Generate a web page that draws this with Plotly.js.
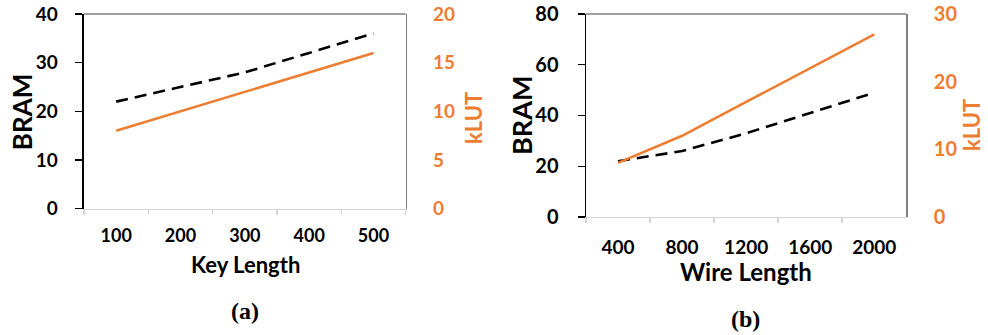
<!DOCTYPE html>
<html>
<head>
<meta charset="utf-8">
<script src="https://cdn.plot.ly/plotly-3.0.1.min.js"></script>
<style>html,body{margin:0;padding:0;background:#fff;}#chart{width:988px;height:335px;}</style>
</head>
<body>
<div id="chart"></div>
<script>
// Data
const keyLength = ['100', '200', '300', '400', '500'];
const bramA = [22, 25, 28, 32, 36];
const klutA = [8, 10, 12, 14, 16];

const wireLength = ['400', '800', '1200', '1600', '2000'];
const bramB = [22, 26, 33, 41, 49];
const klutB = [8, 12, 17, 22, 27];

const ORANGE = '#ED7D31';
const FONT = 'Lato, "Open Sans", sans-serif';

const traces = [
  {x: keyLength, y: bramA, xaxis: 'x', yaxis: 'y', type: 'scatter', mode: 'lines',
   line: {color: '#000', width: 2.6, dash: '12px,7px'}, name: 'BRAM'},
  {x: keyLength, y: klutA, xaxis: 'x', yaxis: 'y2', type: 'scatter', mode: 'lines',
   line: {color: ORANGE, width: 2.6}, name: 'kLUT'},
  {x: wireLength, y: bramB, xaxis: 'x2', yaxis: 'y3', type: 'scatter', mode: 'lines',
   line: {color: '#000', width: 2.6, dash: '12px,7px'}, name: 'BRAM'},
  {x: wireLength, y: klutB, xaxis: 'x2', yaxis: 'y4', type: 'scatter', mode: 'lines',
   line: {color: ORANGE, width: 2.6}, name: 'kLUT'}
];

function xAxis(domain, anchor, size, standoff) {
  return {
    domain: domain, anchor: anchor, type: 'category', range: [-0.5, 4.5],
    showline: true, linecolor: '#d4d4d4', linewidth: 1.5,
    ticks: 'outside', tickson: 'boundaries', ticklen: 5, tickcolor: '#d4d4d4', tickwidth: 1.5,
    showgrid: false, zeroline: false, fixedrange: true,
    tickfont: {family: FONT, size: size, color: '#000', weight: 'bold'},
    ticklabelstandoff: standoff
  };
}
function yLeft(domain, anchor, range, dtick, size, standoff) {
  return {
    domain: domain, anchor: anchor, range: range, dtick: dtick,
    showline: true, linecolor: '#000', linewidth: 1.5,
    ticks: 'outside', ticklen: 7, tickcolor: '#000', tickwidth: 1.3,
    showgrid: false, zeroline: false, fixedrange: true,
    tickfont: {family: FONT, size: size, color: '#000', weight: 'bold'},
    ticklabelstandoff: standoff
  };
}
function yRight(overlay, anchor, range, dtick, size, standoff) {
  return {
    overlaying: overlay, anchor: anchor, side: 'right', range: range, dtick: dtick,
    showline: true, linecolor: '#808080', linewidth: 1.5,
    ticks: '', showgrid: false, zeroline: false, fixedrange: true,
    tickfont: {family: FONT, size: size, color: ORANGE, weight: 'bold'},
    ticklabelstandoff: standoff
  };
}

function ann(text, x, y, size, color, angle, family) {
  return {text: text, xref: 'paper', yref: 'paper', x: x, y: y, xanchor: 'center', yanchor: 'middle',
          showarrow: false, textangle: angle || 0, borderpad: 0,
          font: {family: family || FONT, size: size, color: color, weight: 'bold'}};
}

const layout = {
  width: 988, height: 335,
  margin: {l: 0, r: 0, t: 0, b: 0},
  paper_bgcolor: '#fff', plot_bgcolor: '#fff',
  showlegend: false,
  xaxis: xAxis([0.08502, 0.41063], 'y', 18, 10),
  yaxis: yLeft([0.37701, 0.95821], 'x', [0, 40], 10, 19, 14),
  yaxis2: yRight('y', 'x', [0, 20], 5, 19, 22),
  xaxis2: xAxis([0.59312, 0.91731], 'y3', 19, 13),
  yaxis3: yLeft([0.35224, 0.95821], 'x2', [0, 80], 20, 20, 15),
  yaxis4: yRight('y3', 'x2', [0, 30], 10, 20, 22),
  shapes: [
    {type: 'line', xref: 'x domain', yref: 'y domain', x0: 0, x1: 1, y0: 1, y1: 1,
     line: {color: '#808080', width: 1.5}},
    {type: 'line', xref: 'x2 domain', yref: 'y3 domain', x0: 0, x1: 1, y0: 1, y1: 1,
     line: {color: '#808080', width: 1.5}}
  ],
  annotations: [
    ann('BRAM', 0.02176, 0.66657, 26, '#000', -90),
    ann('kLUT', 0.47874, 0.64776, 22, ORANGE, -90),
    ann('Key Length', 0.24798, 0.20896, 22, '#000'),
    ann('(a)', 0.24798, 0.07164, 24, '#000', 0, '"Liberation Serif", serif'),
    ann('BRAM', 0.52733, 0.65373, 27, '#000', -90),
    ann('kLUT', 0.9838, 0.62687, 22, ORANGE, -90),
    ann('Wire Length', 0.75506, 0.18806, 24, '#000'),
    ann('(b)', 0.75506, 0.04776, 24, '#000', 0, '"Liberation Serif", serif')
  ]
};

Plotly.newPlot('chart', traces, layout, {displayModeBar: false, staticPlot: true});
</script>
</body>
</html>
